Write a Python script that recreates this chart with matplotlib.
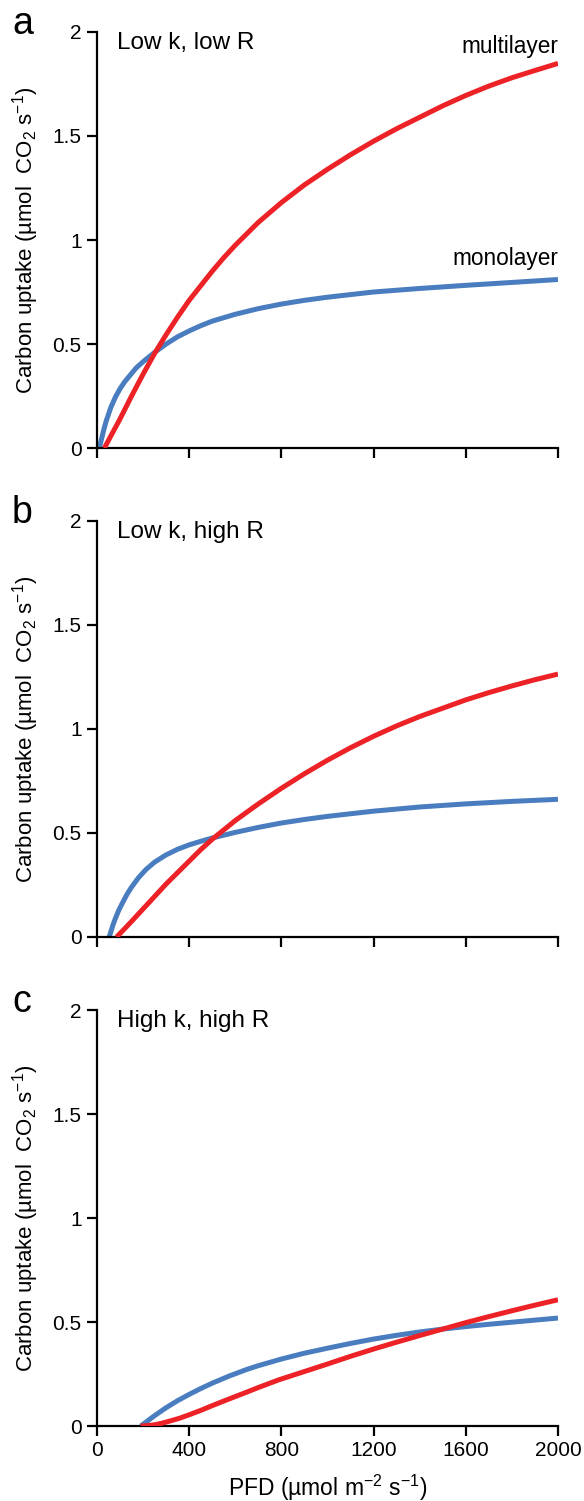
"""Carbon uptake vs PFD for monolayer and multilayer canopies (three scenarios)."""

import matplotlib
matplotlib.use("Agg")
import matplotlib.pyplot as plt

plt.rcParams["font.family"] = ["Liberation Sans", "DejaVu Sans"]
plt.rcParams["mathtext.fontset"] = "custom"
plt.rcParams["mathtext.rm"] = "Liberation Sans"
plt.rcParams["mathtext.it"] = "Liberation Sans:italic"

RED = "#ED2227"
BLUE = "#4A7DBF"

# panel a: low k, low R
a_mono_pfd = [10, 20, 30, 40, 60, 80, 100, 120, 140, 170, 200, 250, 300, 350,
              400, 450, 500, 600, 700, 800, 900, 1000, 1200, 1400, 1600, 1800, 2000]
a_mono = [0, 0.045, 0.09, 0.13, 0.195, 0.245, 0.285, 0.318, 0.345, 0.385, 0.415,
          0.46, 0.50, 0.535, 0.563, 0.588, 0.61, 0.643, 0.67, 0.692, 0.71, 0.725,
          0.75, 0.767, 0.782, 0.796, 0.81]
a_multi_pfd = [32, 100, 150, 200, 250, 300, 350, 400, 450, 500, 550, 600, 650,
               700, 800, 900, 1000, 1100, 1200, 1300, 1400, 1500, 1600, 1700,
               1800, 1900, 2000]
a_multi = [0, 0.14, 0.25, 0.355, 0.455, 0.545, 0.63, 0.71, 0.78, 0.85, 0.915,
           0.975, 1.03, 1.085, 1.18, 1.265, 1.34, 1.41, 1.475, 1.535, 1.59,
           1.645, 1.695, 1.74, 1.78, 1.815, 1.849]

# panel b: low k, high R
b_mono_pfd = [53, 60, 70, 80, 95, 111, 130, 150, 180, 213, 250, 300, 350, 400,
              450, 500, 600, 700, 800, 900, 1000, 1200, 1400, 1600, 1800, 2000]
b_mono = [0, 0.025, 0.06, 0.09, 0.13, 0.165, 0.205, 0.24, 0.285, 0.325, 0.36,
          0.395, 0.422, 0.443, 0.46, 0.476, 0.503, 0.527, 0.548, 0.565, 0.58,
          0.605, 0.625, 0.64, 0.652, 0.662]
b_multi_pfd = [85, 120, 150, 200, 250, 300, 350, 400, 450, 500, 600, 700, 800,
               900, 1000, 1100, 1200, 1300, 1400, 1500, 1600, 1700, 1800, 1900, 2000]
b_multi = [0, 0.04, 0.075, 0.135, 0.195, 0.255, 0.31, 0.365, 0.42, 0.47, 0.56,
           0.64, 0.715, 0.785, 0.85, 0.91, 0.965, 1.015, 1.06, 1.10, 1.14, 1.175,
           1.207, 1.237, 1.264]

# panel c: high k, high R
c_mono_pfd = [190, 220, 250, 300, 350, 400, 450, 500, 573, 650, 700, 800, 900,
              1000, 1100, 1200, 1300, 1400, 1500, 1600, 1700, 1800, 1900, 2000]
c_mono = [0, 0.025, 0.05, 0.088, 0.122, 0.152, 0.18, 0.206, 0.24, 0.272, 0.29,
          0.322, 0.35, 0.374, 0.397, 0.418, 0.436, 0.452, 0.466, 0.478, 0.489,
          0.499, 0.509, 0.519]
c_multi_pfd = [190, 220, 250, 284, 320, 360, 400, 450, 500, 573, 650, 700, 789,
               900, 1000, 1100, 1200, 1300, 1400, 1500, 1600, 1700, 1800, 1900, 2000]
c_multi = [0, 0.002, 0.006, 0.014, 0.025, 0.038, 0.054, 0.075, 0.098, 0.13,
           0.163, 0.185, 0.222, 0.262, 0.298, 0.335, 0.37, 0.403, 0.435, 0.466,
           0.497, 0.526, 0.554, 0.581, 0.607]

panels = [
    ("a", "Low k, low R", a_mono_pfd, a_mono, a_multi_pfd, a_multi),
    ("b", "Low k, high R", b_mono_pfd, b_mono, b_multi_pfd, b_multi),
    ("c", "High k, high R", c_mono_pfd, c_mono, c_multi_pfd, c_multi),
]

x_ticks = [0, 400, 800, 1200, 1600, 2000]
y_ticks = [0, 0.5, 1, 1.5, 2]
y_ticklabels = ["0", "0.5", "1", "1.5", "2"]

W, H = 584, 1501
fig = plt.figure(figsize=(W / 100, H / 100), dpi=100)

left, right = 97, 558
bottoms = [448, 937, 1426]   # pixel row of y=0
ax_h = 416

for i, (letter, title, mx, my, rx, ry) in enumerate(panels):
    y0 = bottoms[i]
    ax = fig.add_axes([left / W, (H - y0) / H, (right - left) / W, ax_h / H])
    ax.plot(mx, my, color=BLUE, lw=3.6, solid_capstyle="butt", zorder=2)
    ax.plot(rx, ry, color=RED, lw=3.6, solid_capstyle="butt", zorder=3)
    ax.set_xlim(0, 2000)
    ax.set_ylim(0, 2)
    ax.spines["top"].set_visible(False)
    ax.spines["right"].set_visible(False)
    for s in ("left", "bottom"):
        ax.spines[s].set_linewidth(1.6)
    ax.set_xticks(x_ticks)
    ax.set_yticks(y_ticks)
    ax.set_yticklabels(y_ticklabels)
    ax.tick_params(direction="out", length=7, width=1.6, labelsize=15, pad=4)
    if i < 2:
        ax.set_xticklabels([])
    else:
        ax.set_xlabel(r"PFD (µmol m$^{-2}$ s$^{-1}$)", fontsize=16.5)
        ax.xaxis.set_label_coords(0.5, -0.112)
    ax.set_ylabel(r"Carbon uptake (µmol  CO$_2$ s$^{-1}$)", fontsize=16)
    ax.yaxis.set_label_coords(-0.122, 0.5)
    ax.text(0.043, 0.96, title, transform=ax.transAxes, fontsize=17.5,
            ha="left", va="baseline")
    fig.text(12 / W, 1 - (34 + 489 * i) / H, letter, fontsize=27,
             ha="left", va="baseline")
    if i == 0:
        ax.text(2000, 1.9, "multilayer", fontsize=16.3, ha="right", va="baseline")
        ax.text(2000, 0.88, "monolayer", fontsize=16.3, ha="right", va="baseline")

fig.savefig("out.png", dpi=100)
